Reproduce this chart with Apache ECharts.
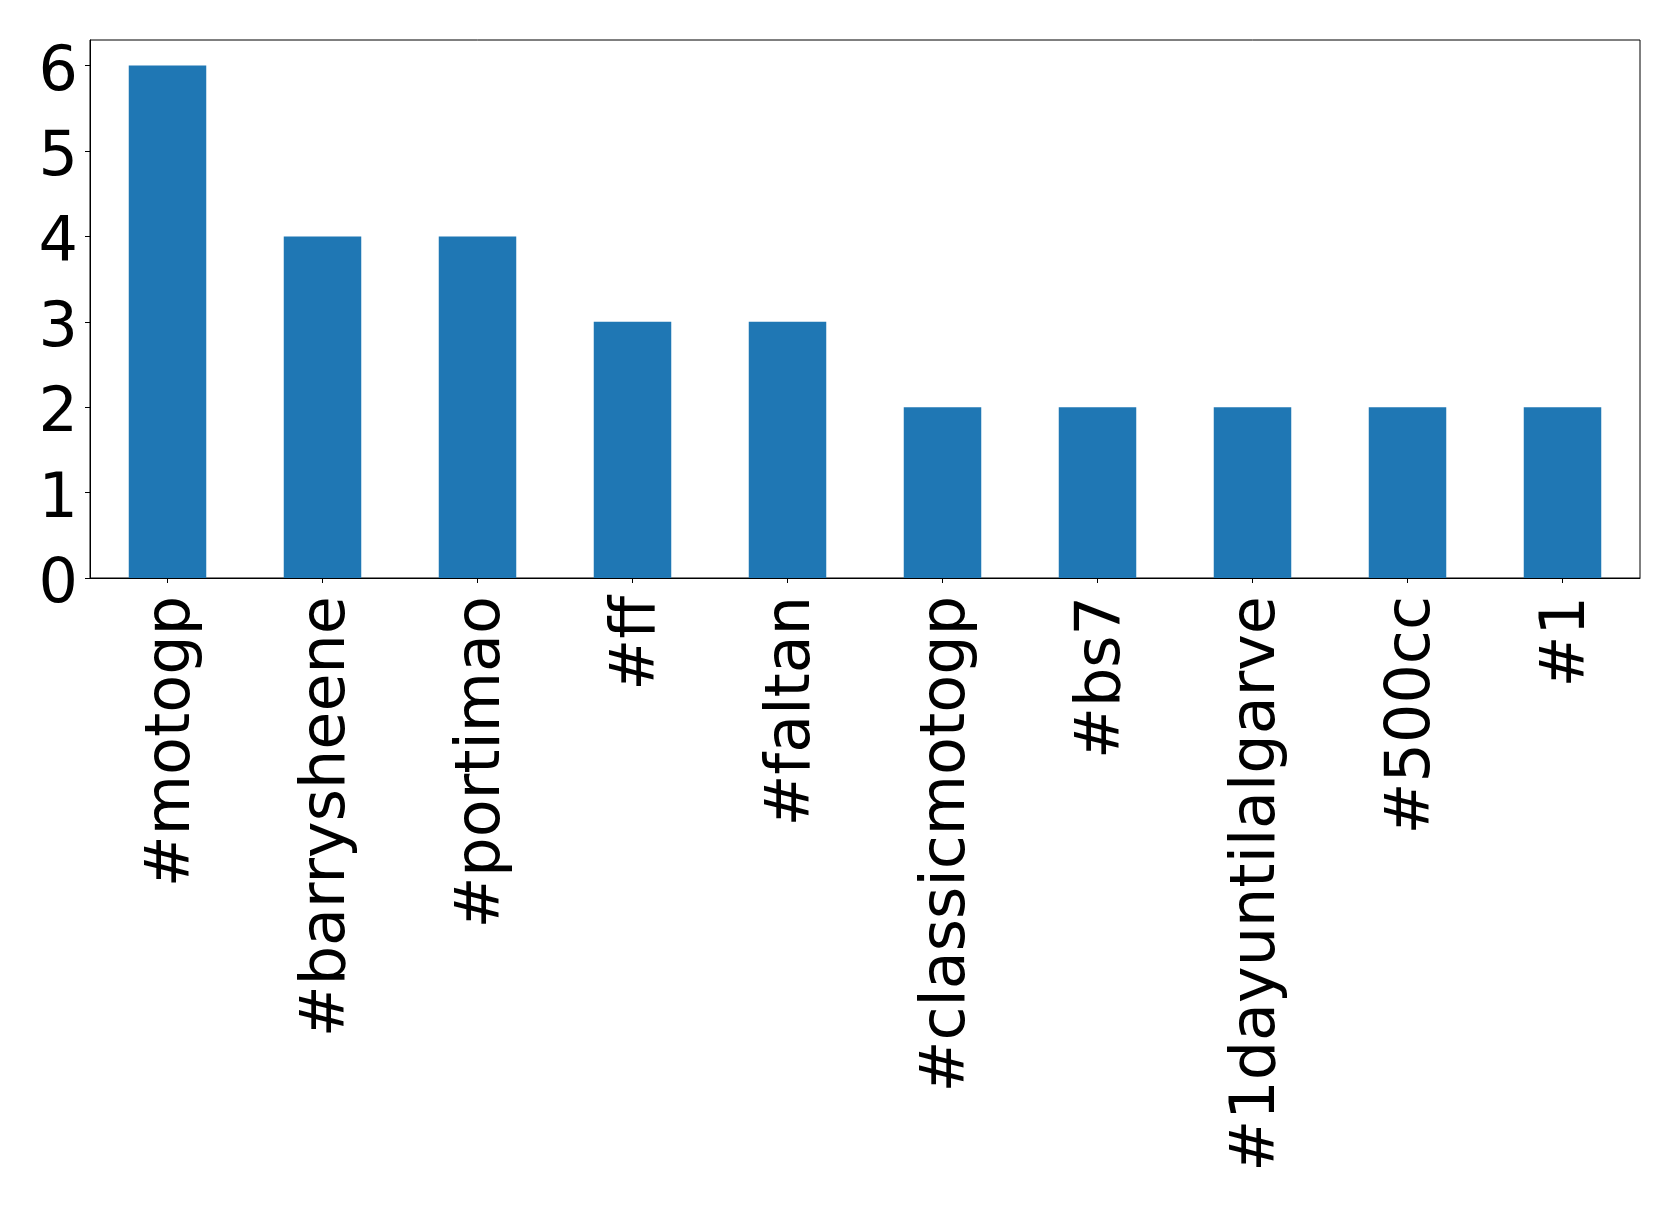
<!DOCTYPE html>
<html>
<head>
<meta charset="utf-8">
<script src="https://cdn.jsdelivr.net/npm/echarts@6/dist/echarts.min.js"></script>
<style>
html,body{margin:0;padding:0;background:#fff;}
#chart{width:1679px;height:1208px;}
</style>
</head>
<body>
<div id="chart"></div>
<script>
const categories = ['#motogp','#barrysheene','#portimao','#ff','#faltan','#classicmotogp','#bs7','#1dayuntilalgarve','#500cc','#1'];
const counts = [6,4,4,3,3,2,2,2,2,2];
const yTicks = [0,1,2,3,4,5,6];

const labelFont = {fontSize: 62, color: '#000', fontFamily: 'DejaVu Sans'};

const chart = echarts.init(document.getElementById('chart'));
chart.setOption({
  animation: false,
  backgroundColor: '#ffffff',
  grid: {left: 90, right: 39, top: 40, bottom: 630, show: true, borderColor: '#000', borderWidth: 1, containLabel: false},
  xAxis: {
    type: 'category',
    data: categories,
    boundaryGap: true,
    axisLine: {show: true, lineStyle: {color: '#000', width: 1}},
    axisTick: {show: true, alignWithLabel: true, length: 5, lineStyle: {color: '#000'}},
    axisLabel: Object.assign({
      rotate: 90, margin: 18, interval: 0,
      formatter: v => '{t|' + v + '}',
      rich: {t: Object.assign({padding: [11, 0, 0, 0]}, labelFont)}
    }, labelFont)
  },
  yAxis: {
    type: 'value',
    min: 0,
    max: 6.3,
    interval: 1,
    splitLine: {show: false},
    axisLine: {show: true, lineStyle: {color: '#000', width: 1}},
    axisTick: {show: true, length: 5, lineStyle: {color: '#000'}},
    axisLabel: Object.assign({
      margin: 12,
      showMaxLabel: false,
      formatter: v => (yTicks.indexOf(v) >= 0 ? '{t|' + v + '}' : ''),
      rich: {t: Object.assign({padding: [16, 0, 0, 0]}, labelFont)}
    }, labelFont)
  },
  series: [{
    type: 'bar',
    data: counts,
    barWidth: '50%',
    itemStyle: {color: '#1f77b4'}
  }]
});
</script>
</body>
</html>
